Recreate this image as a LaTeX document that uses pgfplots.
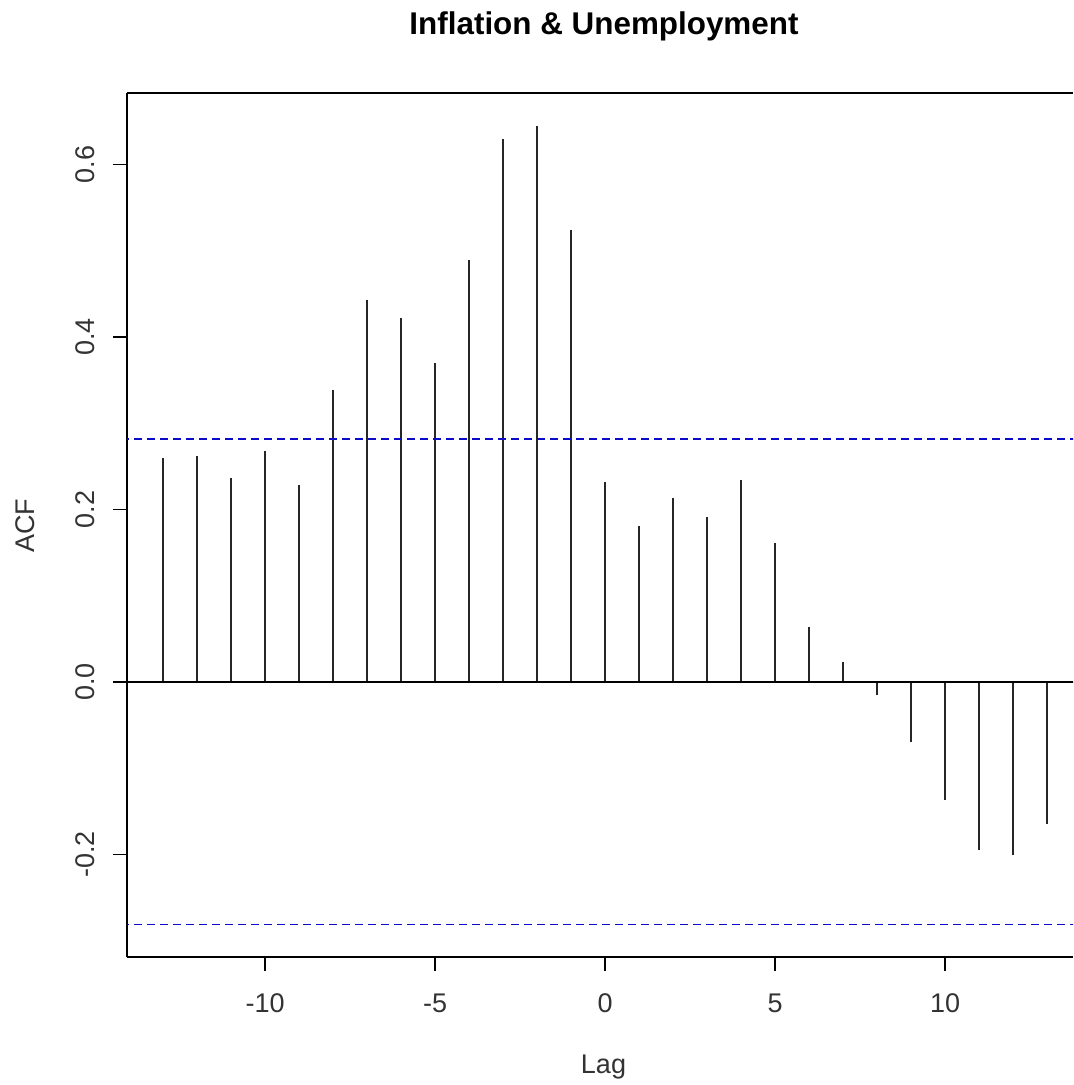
\documentclass[border=0pt]{standalone}
\usepackage{pgfplots}
\pgfplotsset{compat=1.18}
\usepackage{fontspec}
\setmainfont{Liberation Sans}
\definecolor{rblue}{RGB}{10,10,200}
\begin{document}
\begin{tikzpicture}
\path[use as bounding box] (-63.5pt,-64pt) rectangle (473pt,478.5pt);
\begin{axis}[
  at={(0,0)}, anchor=south west,
  scale only axis, width=473pt, height=432pt,
  xmin=-14.06, xmax=13.765, ymin=-0.319, ymax=0.683,
  axis x line*=bottom, axis y line*=left,
  axis line style={black, line width=0.6pt},
  xtick={-10,-5,0,5,10}, ytick={-0.2,0,0.2,0.4,0.6},
  yticklabels={-0.2,0.0,0.2,0.4,0.6},
  tick align=outside, major tick length=7pt,
  tick style={black, line width=0.6pt},
  minor tick num=0,
  /pgf/number format/assume math mode=true,
  tick label style={font=\fontsize{13.5}{15}\selectfont, text=black!80},
  xticklabel style={anchor=center, yshift=-16.25pt},
  yticklabel style={rotate=90, anchor=center, yshift=13.75pt},
  clip=true,
]
\addplot[ycomb, black!85, line width=0.8pt, mark=none] coordinates {
(-13,0.260) (-12,0.262) (-11,0.237) (-10,0.268) (-9,0.228) (-8,0.339)
(-7,0.443) (-6,0.422) (-5,0.370) (-4,0.489) (-3,0.630) (-2,0.645)
(-1,0.524) (0,0.232) (1,0.181) (2,0.213) (3,0.191) (4,0.234)
(5,0.161) (6,0.064) (7,0.023) (8,-0.015) (9,-0.070) (10,-0.137)
(11,-0.195) (12,-0.201) (13,-0.165)
};
\addplot[black, line width=0.6pt, mark=none] coordinates {(-15,0) (15,0)};
\addplot[rblue, line width=0.8pt, dash pattern=on 4pt off 2.5pt, mark=none] coordinates {(-15,0.2815) (15,0.2815)};
\addplot[rblue, line width=0.8pt, dash pattern=on 4pt off 2.5pt, mark=none] coordinates {(-15,-0.2815) (15,-0.2815)};
\end{axis}
\draw[black, line width=0.6pt] (0,432pt) -- (473pt,432pt);
\node[font=\fontsize{13.5}{15}\selectfont, text=black!80, anchor=center] at (238.25pt,-55pt) {Lag};
\node[font=\fontsize{13.5}{15}\selectfont, text=black!80, anchor=center, rotate=90] at (-50.75pt,215.5pt) {ACF};
\node[font=\fontsize{15.7}{18}\selectfont\bfseries, anchor=center] at (238.5pt,465.25pt) {Inflation \& Unemployment};
\end{tikzpicture}
\end{document}
